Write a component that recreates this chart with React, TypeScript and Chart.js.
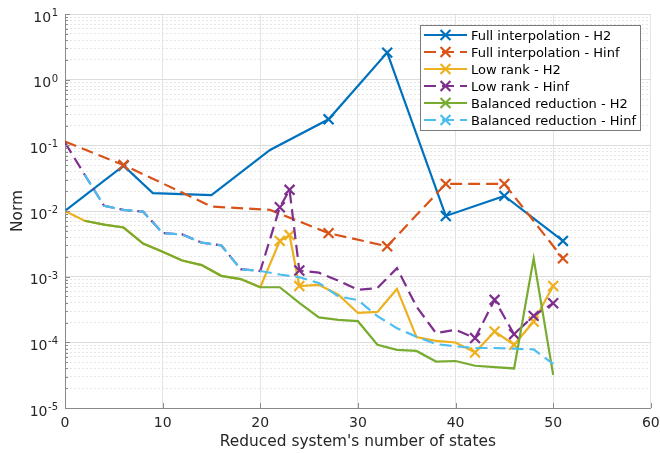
import React, { useEffect, useRef } from 'react';
import { Chart, registerables } from 'chart.js';

Chart.register(...registerables);

// ---- data ----
const fullX = [0, 6, 9, 15, 21, 27, 33, 39, 45, 51];
const fullH2 = [0.01, 0.049, 0.0187, 0.0174, 0.085, 0.249, 2.58, 0.0084, 0.017, 0.0035];
const fullHinf = [0.114, 0.05, 0.031, 0.0117, 0.0104, 0.0046, 0.0029, 0.0259, 0.0259, 0.0019];
const fullMarked = [6, 27, 33, 39, 45, 51];

const lowX = [0, 2, 4, 6, 8, 10, 12, 14, 16, 18, 20, 22, 23, 24, 26, 28, 30, 32, 34, 36, 38, 40, 42, 44, 46, 48, 50];
const lowH2 = [0.01, 0.0071, 0.0062, 0.0056, 0.0032, 0.0024, 0.00176, 0.0015, 0.00103, 0.00092, 0.00069, 0.0035, 0.0043, 0.00072, 0.00075, 0.00053, 0.00028, 0.00029, 0.00065, 0.00012, 0.000105, 0.0000995, 0.00007, 0.000146, 0.000092, 0.000207, 0.00072];
const lowHinf = [0.11, 0.036, 0.012, 0.0104, 0.0098, 0.0046, 0.0044, 0.0033, 0.003, 0.0013, 0.00122, 0.0114, 0.021, 0.00124, 0.00115, 0.00087, 0.00063, 0.00067, 0.00135, 0.00035, 0.000138, 0.000155, 0.000116, 0.000444, 0.000133, 0.000253, 0.000394];
const lowMarked = [22, 23, 24, 42, 44, 46, 48, 50];

const balX = [2, 4, 6, 8, 10, 12, 14, 16, 18, 20, 22, 24, 26, 28, 30, 32, 34, 36, 38, 40, 42, 44, 46, 48, 50];
const balH2 = [0.0071, 0.0062, 0.0056, 0.0032, 0.0024, 0.00176, 0.0015, 0.00103, 0.00092, 0.00069, 0.00069, 0.0004, 0.00024, 0.00022, 0.00021, 0.000092, 0.000077, 0.000074, 0.000051, 0.000052, 0.000044, 0.000042, 0.00004, 0.0019, 0.000032];
const balHinf = [0.036, 0.012, 0.0104, 0.0098, 0.0046, 0.0044, 0.0033, 0.003, 0.0013, 0.00122, 0.00108, 0.00098, 0.0008, 0.0005, 0.00044, 0.00025, 0.000164, 0.000122, 0.000094, 0.000087, 0.000082, 0.000082, 0.00008, 0.000078, 0.000047];
const balMarked: number[] = [];

const seriesNames = [
  'Full interpolation - H2',
  'Full interpolation - Hinf',
  'Low rank - H2',
  'Low rank - Hinf',
  'Balanced reduction - H2',
  'Balanced reduction - Hinf',
];
const seriesColors = ['#0072BD', '#D95319', '#EDB120', '#7E2F8E', '#77AC30', '#4DBEEE'];

const xTicks = [0, 10, 20, 30, 40, 50, 60];
const yDecades = [-5, -4, -3, -2, -1, 0, 1];
const yMinorFactors = [1, 2, 3, 4, 5, 6, 7, 8, 9];

const xTitle = "Reduced system's number of states";
const yTitle = 'Norm';

const FONT = "'DejaVu Sans', sans-serif";
const DASH = [12, 6];
const LW = 2.2;
const MR = 7;

function pts(xs: number[], ys: number[]) {
  return xs.map((x, i) => ({ x, y: ys[i] }));
}
function radii(xs: number[], marked: number[]) {
  return xs.map((x) => (marked.includes(x) ? MR : 0));
}

const decorPlugin = {
  id: 'decor',
  afterDraw(chart: any) {
    const ctx = chart.ctx as CanvasRenderingContext2D;
    const xs = chart.scales.x;
    const ys = chart.scales.y;
    const area = chart.chartArea;
    ctx.save();

    // inward ticks
    ctx.strokeStyle = '#8a8a8a';
    ctx.lineWidth = 1;
    ctx.beginPath();
    for (const d of yDecades) {
      for (const f of yMinorFactors) {
        const v = f * Math.pow(10, d);
        if (v > 10.0001) continue;
        const y = Math.round(ys.getPixelForValue(v)) + 0.5;
        const len = f === 1 ? 5 : 3;
        ctx.moveTo(area.left, y);
        ctx.lineTo(area.left + len, y);
      }
    }
    for (const t of xTicks) {
      const x = Math.round(xs.getPixelForValue(t)) + 0.5;
      ctx.moveTo(x, area.bottom);
      ctx.lineTo(x, area.bottom - 5);
    }
    ctx.stroke();

    // y tick labels with superscripts
    ctx.fillStyle = '#262626';
    ctx.textAlign = 'right';
    ctx.textBaseline = 'alphabetic';
    const rightEdge = 58;
    for (const d of yDecades) {
      const y = ys.getPixelForValue(Math.pow(10, d));
      const exp = String(d);
      ctx.font = `10px ${FONT}`;
      const ew = ctx.measureText(exp).width;
      ctx.fillText(exp, rightEdge, y + 2);
      ctx.font = `14px ${FONT}`;
      ctx.fillText('10', rightEdge - ew - 0.5, y + 7.5);
    }

    // axis titles
    ctx.font = `15.4px ${FONT}`;
    ctx.textAlign = 'center';
    ctx.fillText(xTitle, (area.left + area.right) / 2, 446);
    ctx.save();
    ctx.translate(21.5, (area.top + area.bottom) / 2);
    ctx.rotate(-Math.PI / 2);
    ctx.fillText(yTitle, 0, 0);
    ctx.restore();

    // legend
    const bx = 420.5, by = 25.5, bw = 220, bh = 105;
    ctx.fillStyle = '#ffffff';
    ctx.fillRect(bx, by, bw, bh);
    ctx.strokeStyle = '#7a7a7a';
    ctx.lineWidth = 1;
    ctx.strokeRect(bx, by, bw, bh);
    const rowY0 = 35, rowStep = 17;
    chart.data.datasets.forEach((ds: any, i: number) => {
      const ry = rowY0 + i * rowStep;
      ctx.save();
      ctx.strokeStyle = ds.borderColor;
      ctx.lineWidth = LW;
      ctx.setLineDash(ds.borderDash || []);
      ctx.beginPath();
      ctx.moveTo(424, ry);
      ctx.lineTo(467, ry);
      ctx.stroke();
      ctx.setLineDash([]);
      const r = MR * Math.SQRT1_2;
      const cx = 445.5;
      ctx.beginPath();
      ctx.moveTo(cx - r, ry - r);
      ctx.lineTo(cx + r, ry + r);
      ctx.moveTo(cx - r, ry + r);
      ctx.lineTo(cx + r, ry - r);
      ctx.stroke();
      ctx.restore();
      ctx.fillStyle = '#000000';
      ctx.font = `13px ${FONT}`;
      ctx.textAlign = 'left';
      ctx.textBaseline = 'alphabetic';
      ctx.fillText(ds.label, 471, ry + 4.7);
    });

    ctx.restore();
  },
};

export default function App() {
  const ref = useRef<HTMLCanvasElement>(null);
  useEffect(() => {
    document.body.style.margin = '0';
    const canvas = ref.current!;
    const xsList = [fullX, fullX, lowX, lowX, balX, balX];
    const ysList = [fullH2, fullHinf, lowH2, lowHinf, balH2, balHinf];
    const markList = [fullMarked, fullMarked, lowMarked, lowMarked, balMarked, balMarked];
    const dashed = [false, true, false, true, false, true];
    const n = seriesNames.length;
    const datasets = seriesNames.map((name, i) => ({
      label: name,
      data: pts(xsList[i], ysList[i]),
      borderColor: seriesColors[i],
      backgroundColor: seriesColors[i],
      borderWidth: LW,
      borderDash: dashed[i] ? DASH : [],
      pointStyle: 'crossRot',
      pointRadius: radii(xsList[i], markList[i]),
      pointBorderWidth: LW,
      pointBorderColor: seriesColors[i],
      pointHoverRadius: 0,
      tension: 0,
      fill: false,
      order: n - i,
    }));

    const yTickValues: number[] = [];
    for (const d of yDecades) {
      for (const f of yMinorFactors) {
        const v = f * Math.pow(10, d);
        if (v <= 10.0001) yTickValues.push(v);
      }
    }

    const chart = new Chart(canvas, {
      type: 'line',
      data: { datasets } as any,
      options: {
        responsive: false,
        animation: false,
        devicePixelRatio: 1,
        layout: { padding: { top: 14, right: 0, left: 0, bottom: 0 } },
        plugins: { legend: { display: false }, tooltip: { enabled: false } },
        scales: {
          x: {
            type: 'linear',
            min: 0,
            max: 60,
            afterBuildTicks: (s: any) => {
              s.ticks = xTicks.map((v) => ({ value: v }));
            },
            afterFit: (s: any) => {
              s.height = 45;
              s.paddingRight = 9;
              s.paddingLeft = 0;
            },
            ticks: {
              font: { family: FONT, size: 14 },
              color: '#262626',
              padding: 7,
              maxRotation: 0,
              autoSkip: false,
            },
            grid: { color: '#e3e3e3', lineWidth: 1, drawTicks: false },
            border: { color: '#8a8a8a', width: 1 },
          },
          y: {
            type: 'logarithmic',
            min: 1e-5,
            max: 10,
            afterBuildTicks: (s: any) => {
              s.ticks = yTickValues.map((v) => ({
                value: v,
                major: Math.abs(Math.log10(v) - Math.round(Math.log10(v))) < 1e-9,
              }));
            },
            afterFit: (s: any) => {
              s.width = 65;
            },
            ticks: { display: false },
            grid: {
              color: (c: any) => (c.tick && c.tick.major ? '#dcdcdc' : '#e6e6e6'),
              lineWidth: 1,
              drawTicks: false,
            },
            border: {
              color: '#8a8a8a',
              width: 1,
              dash: (c: any) => (c.tick && !c.tick.major ? [2, 2] : []),
            },
          },
        },
      } as any,
      plugins: [decorPlugin],
    });
    return () => chart.destroy();
  }, []);
  return (
    <div style={{ width: 660, height: 453 }}>
      <canvas ref={ref} width={660} height={453} />
    </div>
  );
}
